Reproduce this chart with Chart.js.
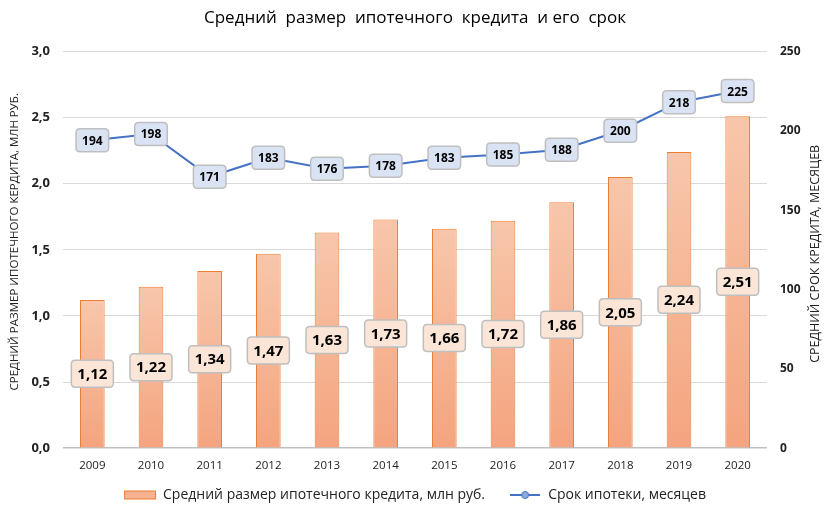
<!DOCTYPE html>
<html><head><meta charset="utf-8">
<script src="https://cdn.jsdelivr.net/npm/chart.js@4"></script>
<style>html,body{margin:0;padding:0;background:#fff}</style>
</head><body>
<canvas id="c" width="830" height="512"></canvas>
<script>
const years = ['2009','2010','2011','2012','2013','2014','2015','2016','2017','2018','2019','2020'];
const loanSize = [1.12,1.22,1.34,1.47,1.63,1.73,1.66,1.72,1.86,2.05,2.24,2.51];
const loanTerm = [194,198,171,183,176,178,183,185,188,200,218,225];
const leftTicks = [0,0.5,1,1.5,2,2.5,3];
const rightTicks = [0,50,100,150,200,250];
const leftTitle = 'СРЕДНИЙ РАЗМЕР ИПОТЕЧНОГО КЕРДИТА, МЛН РУБ.';
const rightTitle = 'СРЕДНИЙ СРОК КРЕДИТА, МЕСЯЦЕВ';

const FONT = "'Open Sans', 'Noto Sans', sans-serif";
const fmt = v => v.toFixed(2).replace('.', ',');
const fmt1 = v => v.toFixed(1).replace('.', ',');

function rr(ctx, x, y, w, h, r) {
  ctx.beginPath();
  ctx.moveTo(x + r, y);
  ctx.lineTo(x + w - r, y); ctx.quadraticCurveTo(x + w, y, x + w, y + r);
  ctx.lineTo(x + w, y + h - r); ctx.quadraticCurveTo(x + w, y + h, x + w - r, y + h);
  ctx.lineTo(x + r, y + h); ctx.quadraticCurveTo(x, y + h, x, y + h - r);
  ctx.lineTo(x, y + r); ctx.quadraticCurveTo(x, y, x + r, y);
  ctx.closePath();
}

function drawBox(ctx, x, y, text, font, fill, padX, h) {
  ctx.font = font;
  const w = ctx.measureText(text).width + padX * 2;
  rr(ctx, x - w / 2, y - h / 2, w, h, 4);
  ctx.fillStyle = fill; ctx.fill();
  ctx.strokeStyle = '#bfbfbf'; ctx.lineWidth = 1.5; ctx.stroke();
  ctx.fillStyle = '#000'; ctx.textAlign = 'center'; ctx.textBaseline = 'middle';
  ctx.fillText(text, x, y + 1);
}

const labelPlugin = {
  id: 'labels',
  afterDatasetsDraw(chart) {
    const ctx = chart.ctx;
    ctx.save();
    const mb = chart.getDatasetMeta(0);
    mb.data.forEach((el, i) => {
      drawBox(ctx, el.x, (el.y + el.base) / 2, fmt(loanSize[i]), "bold 15px " + FONT, '#fbe5d6', 6, 27);
    });
    const ml = chart.getDatasetMeta(1);
    ml.data.forEach((el, i) => {
      drawBox(ctx, el.x, el.y, String(loanTerm[i]), "bold 12px " + FONT, '#dae3f3', 6, 23);
    });
    ctx.restore();
  },
  afterDraw(chart) {
    const ctx = chart.ctx, a = chart.chartArea;
    const cy = (a.top + a.bottom) / 2;
    ctx.save();
    ctx.fillStyle = '#222'; ctx.font = "11.5px " + FONT;
    ctx.textAlign = 'center'; ctx.textBaseline = 'middle';
    ctx.translate(15, cy - 8); ctx.rotate(-Math.PI / 2); ctx.fillText(leftTitle, 0, 0);
    ctx.restore();
    ctx.save();
    ctx.fillStyle = '#222'; ctx.font = "12.5px " + FONT;
    ctx.textAlign = 'center'; ctx.textBaseline = 'middle';
    ctx.translate(815, cy + 4); ctx.rotate(-Math.PI / 2); ctx.fillText(rightTitle, 0, 0);
    ctx.restore();
  }
};

function legendBar() {
  const c = document.createElement('canvas'); c.width = 34; c.height = 11;
  const g = c.getContext('2d');
  g.fillStyle = '#f6b291'; g.fillRect(1, 1, 32, 9);
  g.strokeStyle = '#ed7d31'; g.lineWidth = 1; g.strokeRect(1.5, 1.5, 31, 8);
  return c;
}
function legendLine() {
  const c = document.createElement('canvas'); c.width = 30; c.height = 10;
  const g = c.getContext('2d');
  g.strokeStyle = '#4472c4'; g.lineWidth = 2;
  g.beginPath(); g.moveTo(0, 5); g.lineTo(30, 5); g.stroke();
  g.beginPath(); g.arc(15, 5, 3.5, 0, Math.PI * 2); g.fillStyle = '#8faadc'; g.fill(); g.lineWidth = 1; g.stroke();
  return c;
}

new Chart(document.getElementById('c'), {
  data: {
    labels: years,
    datasets: [
      {
        type: 'bar', label: 'Средний размер ипотечного кредита, млн руб.',
        data: loanSize, yAxisID: 'y', order: 1,
        backgroundColor: (ctx) => {
          const chart = ctx.chart;
          if (!chart.chartArea || ctx.raw === undefined) return '#f6b291';
          const y = chart.scales.y;
          const top = y.getPixelForValue(ctx.raw), bot = y.getPixelForValue(0);
          const g = chart.ctx.createLinearGradient(0, top, 0, bot);
          g.addColorStop(0, '#f8c6ab'); g.addColorStop(1, '#f4a47e');
          return g;
        },
        borderColor: '#ed7d31', borderWidth: 1,
        barPercentage: 0.42, categoryPercentage: 1
      },
      {
        type: 'line', label: 'Срок ипотеки, месяцев',
        data: loanTerm, yAxisID: 'y1', order: 0,
        borderColor: '#4472c4', borderWidth: 2, backgroundColor: '#4472c4',
        pointRadius: 0, tension: 0
      }
    ]
  },
  options: {
    responsive: false, devicePixelRatio: 1, animation: false,
    layout: { padding: { left: 0, right: 0, top: 4, bottom: 0 } },
    plugins: {
      title: {
        display: true, text: 'Средний  размер  ипотечного  кредита  и его  срок',
        color: '#000', font: { family: FONT, size: 17, weight: 'normal' }, padding: { top: 4, bottom: 23 }
      },
      legend: {
        position: 'bottom',
        labels: {
          usePointStyle: true, pointStyleWidth: 32, color: '#222', font: { family: FONT, size: 14 }, padding: 6,
          generateLabels: (chart) => [
            { text: 'Средний размер ипотечного кредита, млн руб.     ', pointStyle: legendBar(), datasetIndex: 0, fontColor: '#222', lineWidth: 0, strokeStyle: 'transparent', fillStyle: 'transparent' },
            { text: 'Срок ипотеки, месяцев', pointStyle: legendLine(), datasetIndex: 1, fontColor: '#222', lineWidth: 0, strokeStyle: 'transparent', fillStyle: 'transparent' }
          ]
        }
      },
      tooltip: { enabled: false }
    },
    scales: {
      x: {
        grid: { display: false }, border: { display: false },
        afterFit: (s) => { s.height = s.height + 6; },
        ticks: { color: '#222', font: { family: FONT, size: 11.5 } }
      },
      y: {
        position: 'left', min: 0, max: 3,
        afterBuildTicks: (s) => { s.ticks = leftTicks.map(v => ({ value: v })); },
        afterFit: (s) => { s.width = 63; },
        ticks: { color: '#222', font: { family: FONT, size: 13, weight: 'bold' }, callback: v => fmt1(v), padding: 13 },
        grid: { color: (c) => c.tick && c.tick.value === 0 ? '#bfbfbf' : '#d9d9d9', lineWidth: (c) => c.tick && c.tick.value === 0 ? 1.5 : 1, drawTicks: false }, border: { display: false }
      },
      y1: {
        position: 'right', min: 0, max: 250,
        afterBuildTicks: (s) => { s.ticks = rightTicks.map(v => ({ value: v })); },
        afterFit: (s) => { s.width = 63; },
        ticks: { color: '#222', font: { family: FONT, size: 12, weight: 'bold' }, padding: 13 },
        grid: { display: false, drawTicks: false }, border: { display: false }
      }
    }
  },
  plugins: [labelPlugin]
});
</script>
</body></html>
